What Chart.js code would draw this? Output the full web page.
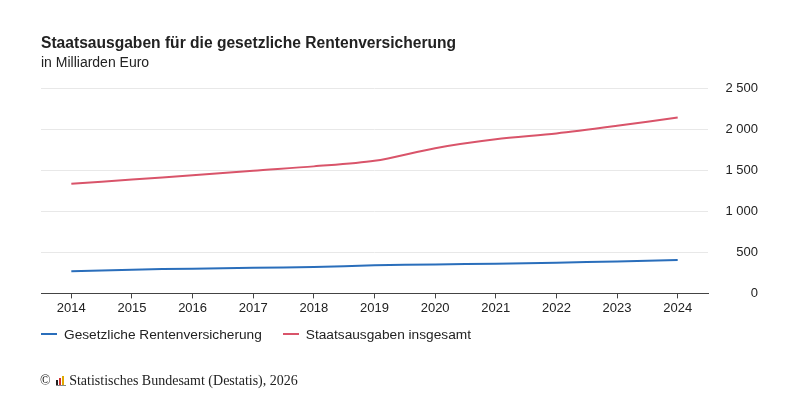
<!DOCTYPE html>
<html><head><meta charset="utf-8">
<script src="https://cdn.jsdelivr.net/npm/chart.js@4/dist/chart.umd.min.js"></script>
<style>
html,body{margin:0;padding:0;background:#fff;}
#wrap{position:relative;width:800px;height:400px;}
#footer{position:absolute;left:40px;top:373px;font-family:"Liberation Serif","DejaVu Serif",serif;font-size:14px;color:#222;white-space:nowrap;}
.ico{display:inline-block;width:10px;height:10px;position:relative;vertical-align:-1px;margin:0 3px 0 2px;}
.ico span{position:absolute;bottom:0;width:2px;}
#legend{position:absolute;left:41px;top:327px;font-family:"Liberation Sans",Arial,sans-serif;font-size:13.7px;color:#222;white-space:nowrap;}
#legend .it{display:inline-block;margin-right:21px;}
#legend .ln{display:inline-block;width:16px;height:2px;vertical-align:4px;margin-right:7px;}
</style></head><body>
<div id="wrap"><canvas id="c" width="800" height="400"></canvas>
<div id="legend"></div>
<div id="footer">© <span class="ico"><span style="left:0;height:6px;background:#222"></span><span style="left:3px;height:8px;background:#d03030"></span><span style="left:6px;height:10px;background:#e0a800"></span><span style="left:0;width:10px;height:1px;background:#888"></span></span>Statistisches Bundesamt (Destatis), 2026</div>
</div>
<script>
const years = ['2014','2015','2016','2017','2018','2019','2020','2021','2022','2023','2024'];
const rentenversicherung = [270, 290, 302, 314, 322, 342, 354, 362, 374, 390, 407];
const staatsausgaben = [1337, 1389, 1441, 1498, 1550, 1618, 1772, 1880, 1952, 2045, 2146];
const yTicks = [0, 500, 1000, 1500, 2000, 2500];

const fmt = v => String(v).replace(/\B(?=(\d{3})+(?!\d))/g, ' ');
Chart.defaults.font.family = '"Liberation Sans", Arial, sans-serif';
Chart.defaults.color = '#222';

const chart = new Chart(document.getElementById('c'), {
  type: 'line',
  data: {
    labels: years,
    datasets: [
      {label: 'Gesetzliche Rentenversicherung', data: rentenversicherung, borderColor: '#2a6ebb', backgroundColor: '#2a6ebb', borderWidth: 2, pointRadius: 0, tension: 0.3},
      {label: 'Staatsausgaben insgesamt', data: staatsausgaben, borderColor: '#d9546a', backgroundColor: '#d9546a', borderWidth: 2, pointRadius: 0, tension: 0.3}
    ]
  },
  options: {
    responsive: false,
    animation: false,
    layout: {padding: {left: 41, right: 42, top: 0, bottom: 82}},
    plugins: {
      title: {display: true, text: 'Staatsausgaben für die gesetzliche Rentenversicherung', align: 'start', font: {size: 15.6, weight: 'bold'}, color: '#222', padding: {top: 34, bottom: 0}},
      subtitle: {display: true, text: 'in Milliarden Euro', align: 'start', font: {size: 14}, color: '#222', padding: {top: 2, bottom: 17}},
      legend: {display: false},
      tooltip: {enabled: false}
    },
    scales: {
      x: {
        offset: true,
        grid: {display: true, drawOnChartArea: false, drawTicks: true, tickLength: 5, color: '#444', offset: false},
        border: {display: true, color: '#444', width: 1},
        ticks: {font: {size: 13}, color: '#222', padding: 2, maxRotation: 0}
      },
      y: {
        position: 'right',
        min: 0, max: 2500,
        afterBuildTicks: s => { s.ticks = yTicks.map(v => ({value: v})); },
        afterFit: s => { s.width = 50; },
        grid: {color: '#e8e8e8', drawTicks: false},
        border: {display: false},
        ticks: {crossAlign: 'far', font: {size: 13}, color: '#222', padding: 4, callback: v => fmt(v)}
      }
    }
  }
});
document.getElementById('legend').innerHTML = chart.data.datasets.map(d =>
  '<span class="it"><span class="ln" style="background:' + d.borderColor + '"></span>' + d.label + '</span>').join('');
</script>
</body></html>
